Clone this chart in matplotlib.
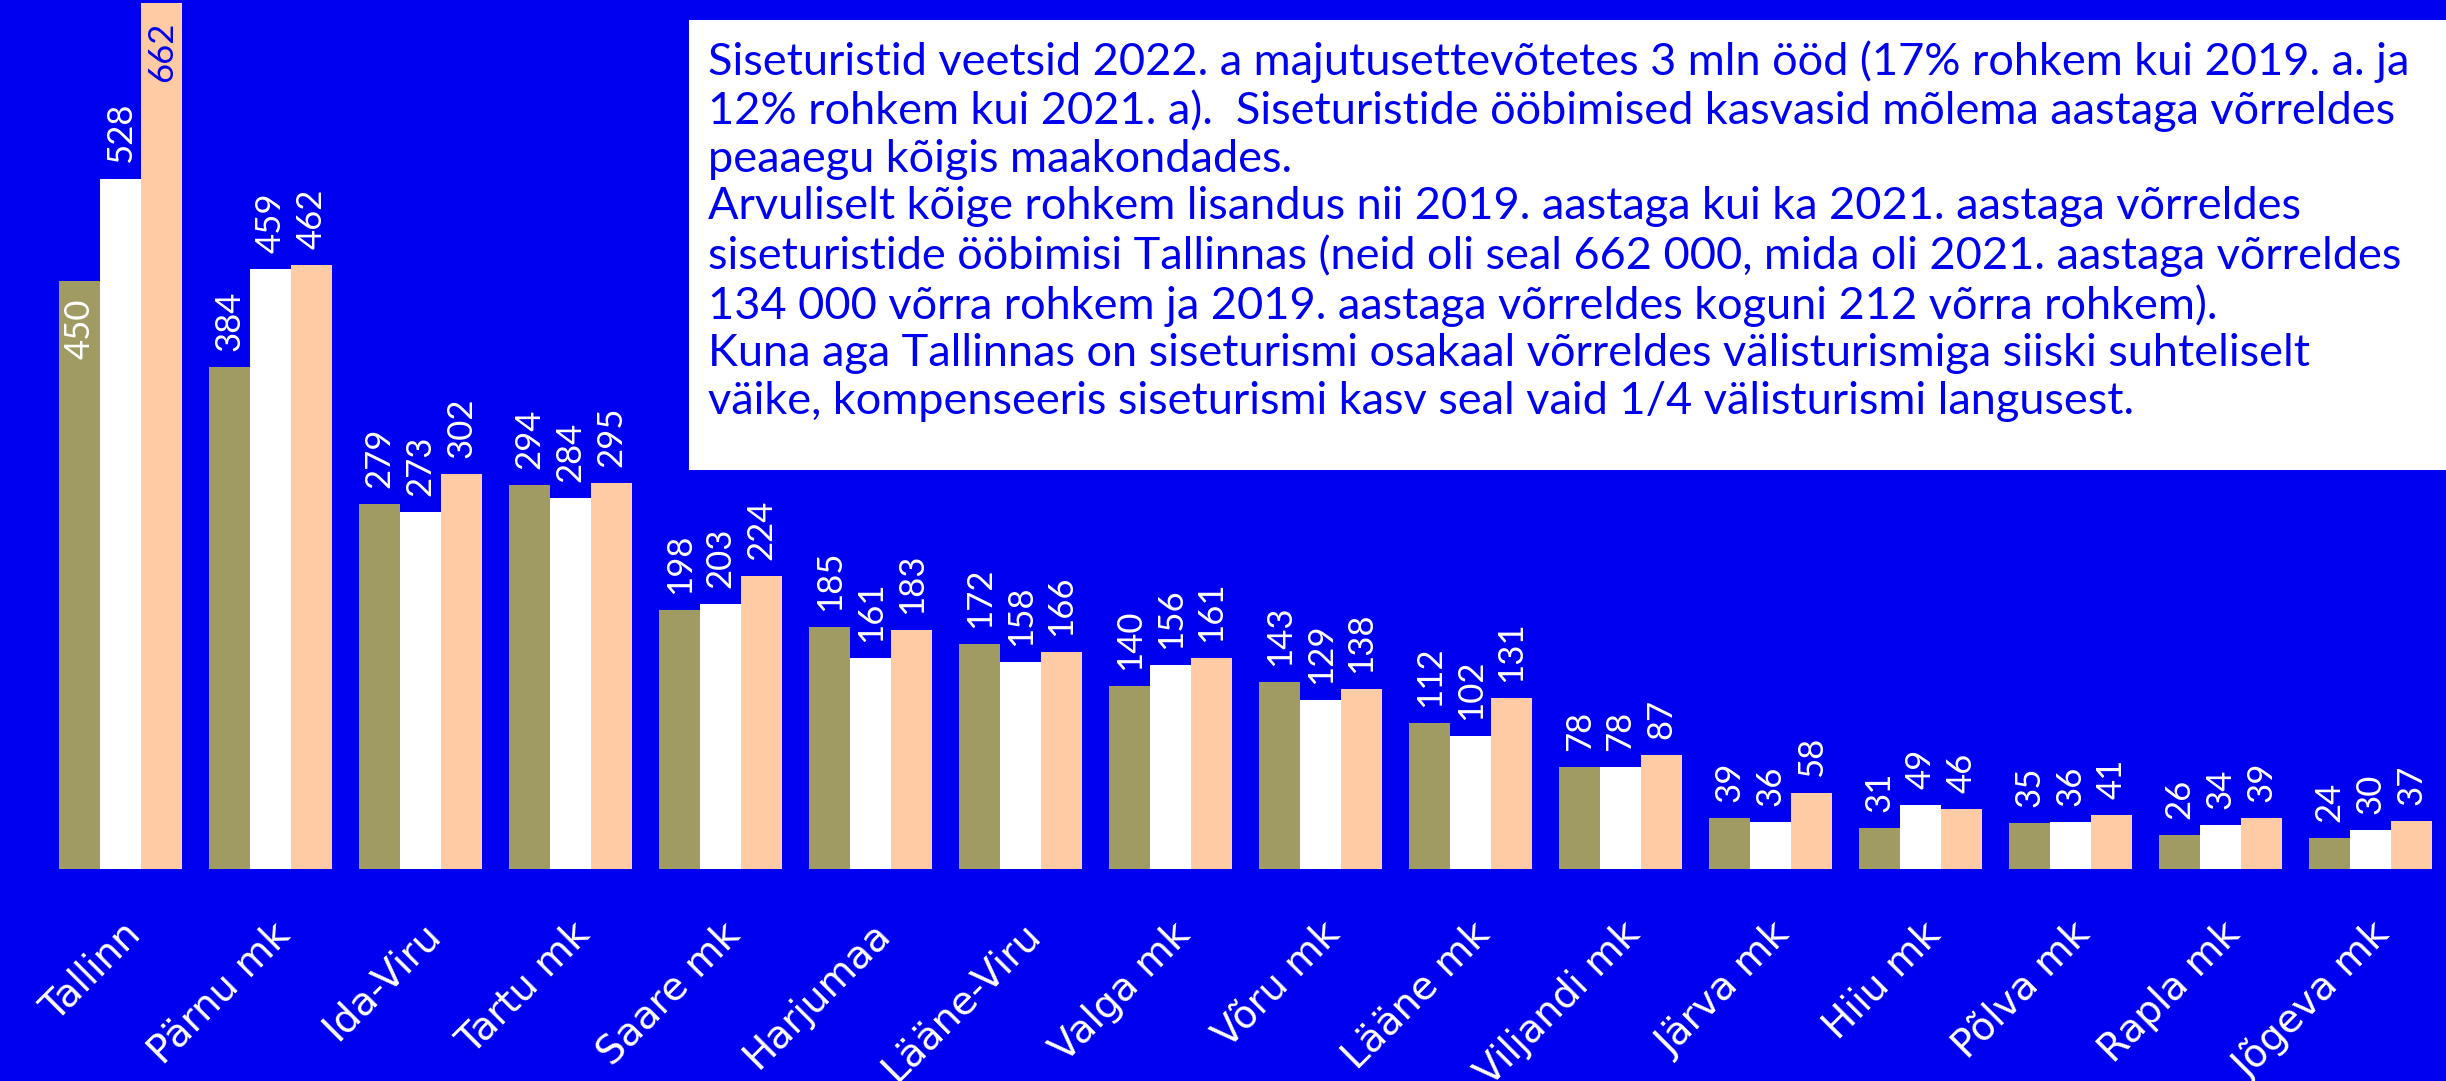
import numpy as np
import matplotlib
matplotlib.use("Agg")
from matplotlib import pyplot as plt
from matplotlib.patches import Rectangle

regions = ['Tallinn', 'Pärnu mk', 'Ida-Viru', 'Tartu mk', 'Saare mk', 'Harjumaa',
           'Lääne-Viru', 'Valga mk', 'Võru mk', 'Lääne mk', 'Viljandi mk', 'Järva mk',
           'Hiiu mk', 'Põlva mk', 'Rapla mk', 'Jõgeva mk']
y2019 = [450, 384, 279, 294, 198, 185, 172, 140, 143, 112, 78, 39, 31, 35, 26, 24]
y2021 = [528, 459, 273, 284, 203, 161, 158, 156, 129, 102, 78, 36, 49, 36, 34, 30]
y2022 = [662, 462, 302, 295, 224, 183, 166, 161, 138, 131, 87, 58, 46, 41, 39, 37]

note = ("Siseturistid veetsid 2022. a majutusettevõtetes 3 mln ööd (17% rohkem kui 2019. a. ja\n"
        "12% rohkem kui 2021. a).  Siseturistide ööbimised kasvasid mõlema aastaga võrreldes\n"
        "peaaegu kõigis maakondades.\n"
        "Arvuliselt kõige rohkem lisandus nii 2019. aastaga kui ka 2021. aastaga võrreldes\n"
        "siseturistide ööbimisi Tallinnas (neid oli seal 662 000, mida oli 2021. aastaga võrreldes\n"
        "134 000 võrra rohkem ja 2019. aastaga võrreldes koguni 212 võrra rohkem).\n"
        "Kuna aga Tallinnas on siseturismi osakaal võrreldes välisturismiga siiski suhteliselt\n"
        "väike, kompenseeris siseturismi kasv seal vaid 1/4 välisturismi langusest.")

blue = '#0000F0'
olive = '#A09B62'
peach = '#FFCBA4'

plt.rcParams['font.family'] = ['Lato', 'DejaVu Sans']

fig = plt.figure(figsize=(24.46, 10.81), dpi=100, facecolor=blue)
ax = fig.add_axes([0, 212/1081, 1, 869/1081])
ax.set_facecolor(blue)

x = np.arange(len(regions))
w = 0.273
series = [(y2019, olive, -w), (y2021, 'white', 0), (y2022, peach, w)]
for vals, col, off in series:
    bars = ax.bar(x + off, vals, w, color=col)
    for i, (b, v) in enumerate(zip(bars, vals)):
        cx = b.get_x() + b.get_width() / 2
        if i == 0 and col != 'white':
            # Tallinn 2019 and 2022 labels sit inside the bar
            tc = 'white' if col == olive else blue
            ax.annotate(str(v), (cx, v), xytext=(0, -13), textcoords='offset points',
                        rotation=90, ha='center', va='top', color=tc, fontsize=25)
        else:
            ax.annotate(str(v), (cx, v), xytext=(0, 11.5), textcoords='offset points',
                        rotation=90, ha='center', va='bottom', color='white', fontsize=25)

ax.set_xlim(-0.805, 15.503)
ax.set_ylim(0, 664.5)
ax.set_yticks([])
ax.set_xticks(x)
ax.set_xticklabels(regions, rotation=45, ha='right', va='top', rotation_mode='anchor',
                   color='white', fontsize=28, family=['DejaVu Sans'])
ax.tick_params(axis='x', length=0, pad=33)
for s in ax.spines.values():
    s.set_visible(False)

# note box
fig.patches.append(Rectangle((689/2446, 1 - 470/1081), 1 - 689/2446, 450/1081,
                             transform=fig.transFigure, facecolor='white', edgecolor='none', zorder=5))
fig.text(708/2446, 1 - 40/1081, note, ha='left', va='top', color=blue, fontsize=32.5,
         linespacing=1.2, zorder=6)

fig.savefig('out.png', dpi=100, facecolor=blue)
